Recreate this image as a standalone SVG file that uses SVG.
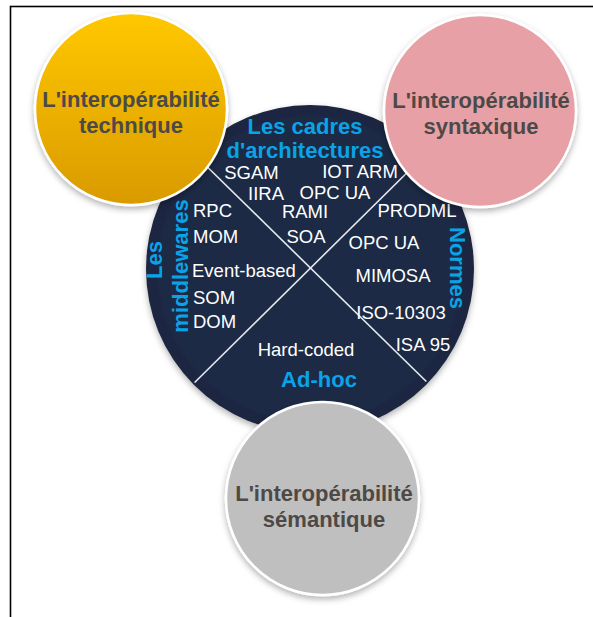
<svg xmlns="http://www.w3.org/2000/svg" width="593" height="617" viewBox="0 0 593 617">
<style>
.t{font-family:"Liberation Sans",Arial,sans-serif;}
.w{fill:#ffffff;font-size:18.5px;}
.h{fill:#0aa3e8;font-size:22px;font-weight:bold;}
.n{fill:#4d4946;font-size:22px;font-weight:bold;text-anchor:middle;}
.c{text-anchor:middle;}
.ring{stroke:#ffffff;stroke-width:2.5;filter:url(#sh);}
.div{stroke:#e6e9ee;stroke-width:1.6;fill:none;}
</style>
<defs>
<linearGradient id="gy" x1="0" y1="0" x2="0" y2="1">
<stop offset="0" stop-color="#ffc800"/>
<stop offset="1" stop-color="#d99a00"/>
</linearGradient>
<radialGradient id="gd" cx="0.5" cy="0.5" r="0.5">
<stop offset="0.9" stop-color="#1f2a45"/>
<stop offset="1" stop-color="#1b2540"/>
</radialGradient>
<filter id="sh" x="-20%" y="-20%" width="140%" height="140%">
<feDropShadow dx="0" dy="3" stdDeviation="3" flood-color="#000000" flood-opacity="0.3"/>
</filter>
<clipPath id="cc"><circle cx="310" cy="269" r="162"/></clipPath>
</defs>
<rect x="10.5" y="6.5" width="620" height="640" fill="#ffffff" stroke="#000000" stroke-width="1.6"/>

<g id="main">
<circle cx="310" cy="269" r="164" fill="url(#gd)" filter="url(#sh)"/>
</g>

<g id="dividers" clip-path="url(#cc)">
<line class="div" x1="190" y1="150" x2="435" y2="390"/>
<line class="div" x1="430" y1="150" x2="185" y2="392"/>
</g>

<g id="cadres" class="t">
<text class="h c" x="305" y="134">Les cadres</text>
<text class="h c" x="305" y="158">d'architectures</text>
<text class="w c" x="251.5" y="179">SGAM</text>
<text class="w c" x="360" y="178">IOT ARM</text>
<text class="w c" x="266" y="200">IIRA</text>
<text class="w c" x="335" y="199">OPC UA</text>
<text class="w c" x="305" y="218">RAMI</text>
<text class="w c" x="306" y="243">SOA</text>
</g>

<g id="middlewares" class="t">
<text class="h c" transform="translate(162,260) rotate(-90)">Les</text>
<text class="h c" transform="translate(188,266) rotate(-90)">middlewares</text>
<text class="w" x="193" y="217">RPC</text>
<text class="w" x="193" y="243">MOM</text>
<text class="w" x="192" y="277">Event-based</text>
<text class="w" x="193" y="304">SOM</text>
<text class="w" x="193" y="328">DOM</text>
</g>

<g id="normes" class="t">
<text class="h c" transform="translate(450,268) rotate(90)">Normes</text>
<text class="w c" x="417" y="217">PRODML</text>
<text class="w c" x="384" y="249">OPC UA</text>
<text class="w c" x="393" y="282">MIMOSA</text>
<text class="w c" x="401" y="319">ISO-10303</text>
<text class="w c" x="423" y="351">ISA 95</text>
</g>

<g id="adhoc" class="t">
<text class="w c" x="306" y="356">Hard-coded</text>
<text class="h c" x="319" y="387">Ad-hoc</text>
</g>

<g id="technique" class="t">
<circle class="ring" cx="131" cy="109" r="96" fill="url(#gy)"/>
<text class="n" x="131" y="107">L'interopérabilité</text>
<text class="n" x="131" y="133">technique</text>
</g>

<g id="syntaxique" class="t">
<circle class="ring" cx="480" cy="111" r="96" fill="#e7a1a6"/>
<text class="n" x="481" y="108">L'interopérabilité</text>
<text class="n" x="481" y="134">syntaxique</text>
</g>

<g id="semantique" class="t">
<circle class="ring" cx="322.5" cy="498.5" r="96.5" fill="#bfbfbf"/>
<text class="n" x="324" y="501">L'interopérabilité</text>
<text class="n" x="324" y="527">sémantique</text>
</g>
</svg>
